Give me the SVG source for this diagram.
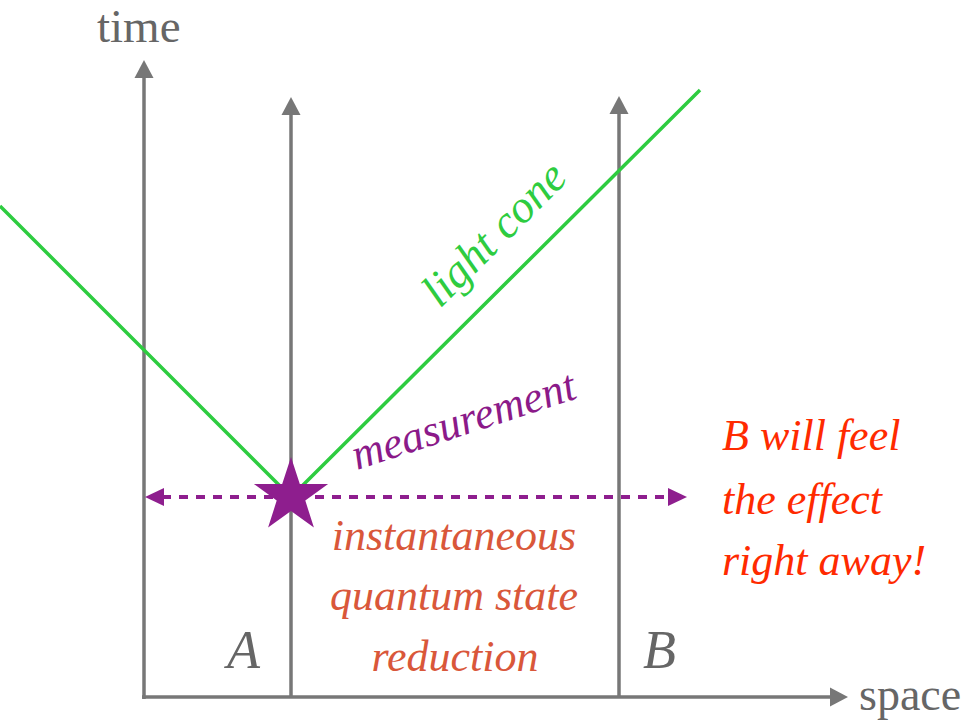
<svg xmlns="http://www.w3.org/2000/svg" width="974" height="722" viewBox="0 0 974 722">
<style>
.ax{stroke:#777;stroke-width:3.5;fill:none}
.ah{fill:#777}
.cone{stroke:#2ecc40;stroke-width:3.5;fill:none}
.lbl{font-family:"Liberation Serif",serif;fill:#666}
.it{font-family:"Liberation Serif",serif;font-style:italic}
</style>
<rect width="974" height="722" fill="#fff"/>
<g id="connectors">
  <g id="time-axis">
    <line class="ax" x1="144" y1="699" x2="144" y2="76"/>
    <polygon class="ah" points="144,60 134.5,78 153.5,78"/>
  </g>
  <g id="space-axis">
    <line class="ax" x1="142" y1="697" x2="831" y2="697"/>
    <polygon class="ah" points="848,697 830,687.5 830,706.5"/>
  </g>
  <g id="worldline-A">
    <line class="ax" x1="291" y1="697" x2="291" y2="113"/>
    <polygon class="ah" points="291,97 281.5,115 300.5,115"/>
  </g>
  <g id="worldline-B">
    <line class="ax" x1="619" y1="697" x2="619" y2="113"/>
    <polygon class="ah" points="619,96 609.5,114 628.5,114"/>
  </g>
  <g id="light-cone">
    <polyline class="cone" points="0,206 291,497 700,90"/>
  </g>
  <g id="measurement-arrow">
    <line x1="162" y1="497" x2="669" y2="497" stroke="#8e1e8e" stroke-width="4" stroke-dasharray="9 8"/>
    <polygon points="145,497 164,488 164,506" fill="#8e1e8e"/>
    <polygon points="687,497 668,488 668,506" fill="#8e1e8e"/>
  </g>
</g>
<g id="star">
  <polygon fill="#8e1e8e" points="291,457 299.8,483.9 328.1,484 305.3,500.6 313.9,527.6 291,511 268.1,527.6 276.7,500.6 253.9,484 282.2,483.9"/>
</g>
<g id="label-time"><text class="lbl" x="97" y="42" font-size="47">time</text></g>
<g id="label-space"><text class="lbl" x="859" y="710" font-size="46">space</text></g>
<g id="label-A"><text class="lbl it" x="227" y="668" font-size="54">A</text></g>
<g id="label-B"><text class="lbl it" x="643" y="668" font-size="54">B</text></g>
<g id="label-light-cone"><text class="it" fill="#2ecc40" font-size="46" transform="translate(440,309) rotate(-45)">light cone</text></g>
<g id="label-measurement"><text class="it" fill="#8b1a89" font-size="44" transform="translate(357,470) rotate(-18)">measurement</text></g>
<g id="label-reduction" class="it" fill="#d9573a" font-size="44" text-anchor="middle">
  <text x="454" y="550">instantaneous</text>
  <text x="454" y="610">quantum state</text>
  <text x="455" y="671">reduction</text>
</g>
<g id="label-effect" class="it" fill="#ff2a00" font-size="44">
  <text x="722" y="450">B will feel</text>
  <text x="722" y="514">the effect</text>
  <text x="722" y="575">right away!</text>
</g>
</svg>
